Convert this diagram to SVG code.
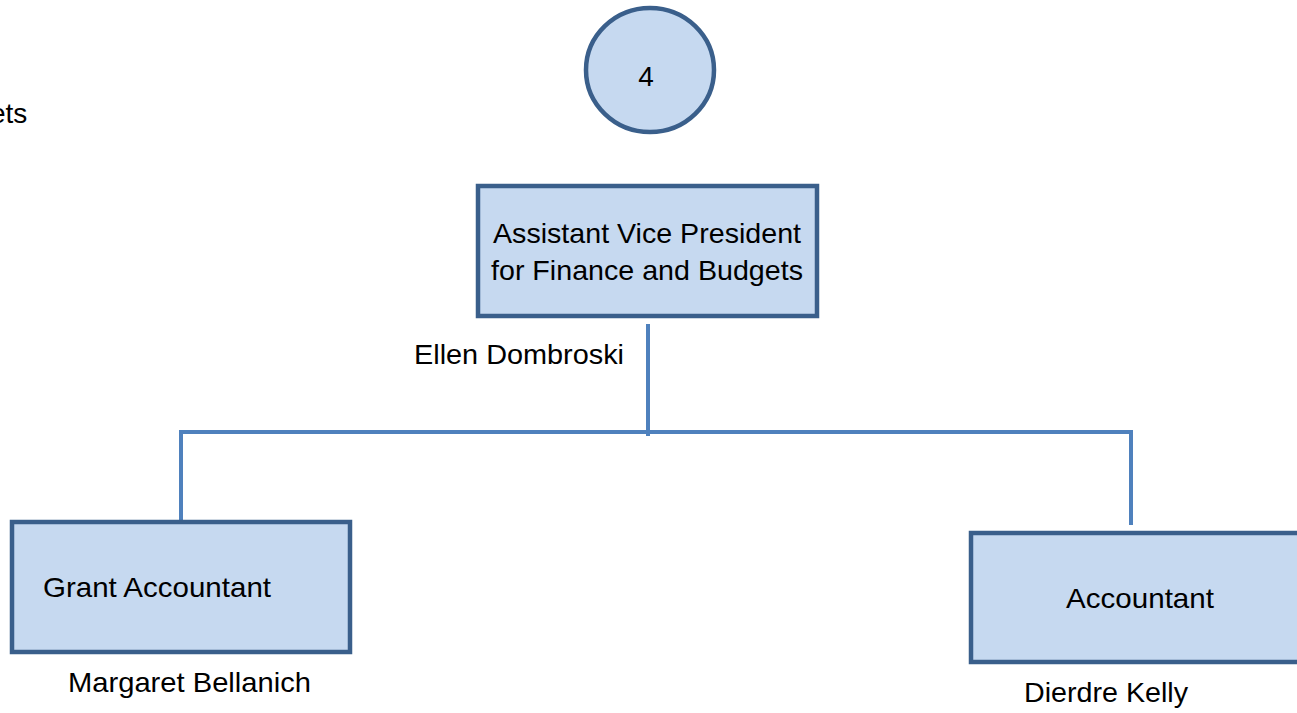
<svg xmlns="http://www.w3.org/2000/svg" width="1297" height="713" viewBox="0 0 1297 713">
<style>
.node{fill:#c6d9f0;stroke:#3a5f8b;stroke-width:4.5}
.conn{stroke:#4f81bd;stroke-width:4;fill:none}
text{font-family:"Liberation Sans",Arial,sans-serif;font-size:28px;fill:#000}
</style>
<rect width="1297" height="713" fill="#fff"/>
<text id="cut-label" x="-10" y="123">ets</text>
<g id="connectors">
<path class="conn" d="M648,324 V436"/>
<path class="conn" d="M179,432 H1133"/>
<path class="conn" d="M181,430 V521"/>
<path class="conn" d="M1131,430 V525"/>
</g>
<g id="node-4">
<ellipse class="node" cx="650" cy="70" rx="64" ry="62"/>
<text x="646" y="86" text-anchor="middle">4</text>
</g>
<g id="node-avp">
<rect class="node" x="478" y="186" width="339" height="130"/>
<text x="493" y="243" textLength="308" lengthAdjust="spacingAndGlyphs">Assistant Vice President</text>
<text x="491" y="280" textLength="312" lengthAdjust="spacingAndGlyphs">for Finance and Budgets</text>
<text x="414" y="364" textLength="210" lengthAdjust="spacingAndGlyphs">Ellen Dombroski</text>
</g>
<g id="node-grant">
<rect class="node" x="12" y="522" width="338" height="130"/>
<text x="43" y="597" textLength="228" lengthAdjust="spacingAndGlyphs">Grant Accountant</text>
<text x="68" y="692" textLength="243" lengthAdjust="spacingAndGlyphs">Margaret Bellanich</text>
</g>
<g id="node-accountant">
<rect class="node" x="971" y="533" width="340" height="129"/>
<text x="1066" y="608" textLength="148" lengthAdjust="spacingAndGlyphs">Accountant</text>
<text x="1024" y="702" textLength="164" lengthAdjust="spacingAndGlyphs">Dierdre Kelly</text>
</g>
</svg>
